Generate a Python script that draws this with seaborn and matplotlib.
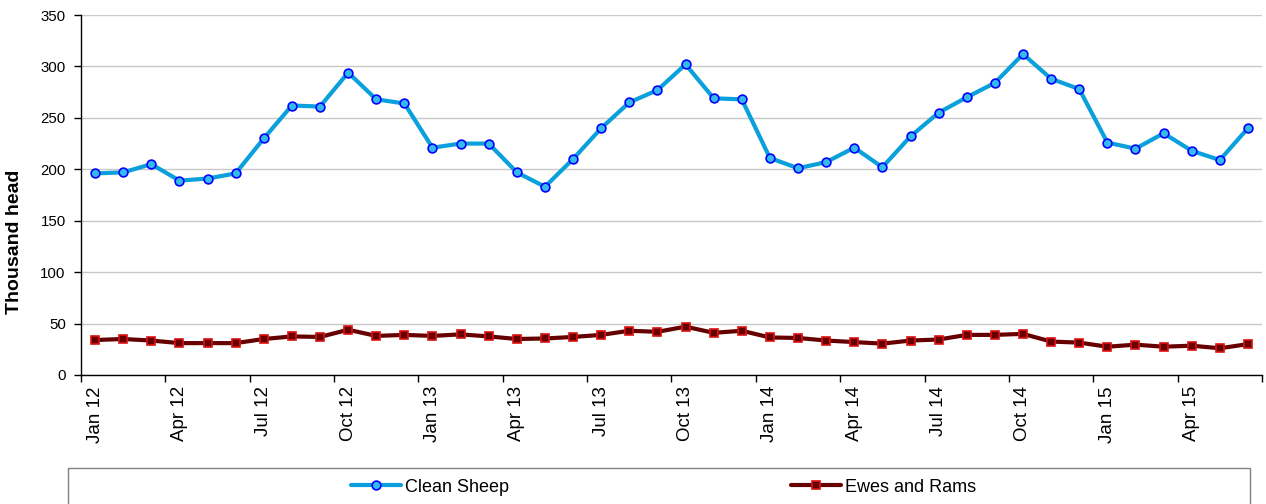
import numpy as np
import pandas as pd
import matplotlib
matplotlib.use("Agg")
import matplotlib.pyplot as plt
from matplotlib.patches import Rectangle
import seaborn as sns

# monthly values, Jan 12 .. Jun 15 (thousand head)
months = ["Jan", "Feb", "Mar", "Apr", "May", "Jun",
          "Jul", "Aug", "Sep", "Oct", "Nov", "Dec"]
years = ["12", "13", "14", "15"]
month_labels = [m + " " + y for y in years for m in months][:42]

clean_sheep = [196, 197, 205, 189, 191, 196, 230, 262, 261, 294, 268, 264,
               221, 225, 225, 197, 183, 210, 240, 265, 277, 302, 269, 268,
               211, 201, 207, 221, 202, 232, 255, 270, 284, 312, 288, 278,
               226, 220, 235, 218, 209, 240]
ewes_rams = [34, 35, 33.5, 31, 31, 31, 35, 37.5, 37, 44, 38, 39,
             38, 39.5, 37.5, 35, 35.5, 37, 39, 43, 42, 47, 41, 43,
             36.5, 36, 33.5, 32, 30.5, 33.5, 34.5, 39, 39, 40, 32.5, 31.5,
             27.5, 29.5, 27.5, 28.5, 26, 30]

df = pd.DataFrame({"idx": np.arange(len(month_labels)),
                   "month": month_labels,
                   "Clean Sheep": clean_sheep,
                   "Ewes and Rams": ewes_rams})

sns.set_style("white")
plt.rcParams["font.family"] = ["Liberation Sans", "DejaVu Sans"]
plt.rcParams["text.color"] = "black"
plt.rcParams["axes.labelcolor"] = "black"
plt.rcParams["xtick.color"] = "black"
plt.rcParams["ytick.color"] = "black"

fig = plt.figure(figsize=(12.66, 5.04), dpi=100)
ax = fig.add_axes([81 / 1266, 1 - 375 / 504, (1262 - 81) / 1266, 360 / 504])

sns.lineplot(data=df, x="idx", y="Clean Sheep", ax=ax, color="#0AA0DC",
             linewidth=3, marker="o", markersize=6.3,
             markerfacecolor="#33BBEE", markeredgecolor="#0000FF",
             markeredgewidth=1.2, label="Clean Sheep", legend=False)
sns.lineplot(data=df, x="idx", y="Ewes and Rams", ax=ax, color="#660000",
             linewidth=3, marker="s", markersize=5.8,
             markerfacecolor="#660000", markeredgecolor="#DD1111",
             markeredgewidth=1.2, label="Ewes and Rams", legend=False)

ax.set_xlim(-0.5, len(month_labels) - 0.5)
ax.set_ylim(0, 350)
ax.set_yticks(np.arange(0, 351, 50))
ax.grid(axis="y", color="#c8c8c8", linewidth=1)
ax.set_axisbelow(True)

# labels every quarter, tick marks between categories
ax.set_xticks(df["idx"][::3])
ax.set_xticklabels(df["month"][::3], rotation=90, fontsize=13.5)
ax.set_xticks(np.arange(-0.5, len(month_labels), 3), minor=True)
ax.tick_params(axis="x", which="major", length=0, pad=8)
ax.tick_params(axis="x", which="minor", length=5, width=1, color="black",
               direction="out")
ax.tick_params(axis="y", length=5, width=1, color="black", direction="out",
               labelsize=10.8, pad=6)
ax.yaxis.set_ticks_position("left")
ax.xaxis.set_ticks_position("bottom")

for s in ["top", "right"]:
    ax.spines[s].set_visible(False)
for s in ["left", "bottom"]:
    ax.spines[s].set_color("black")
    ax.spines[s].set_linewidth(1)

ax.set_xlabel("")
ax.set_ylabel("Thousand head", fontsize=14, fontweight="bold")
ax.yaxis.set_label_coords(-0.049, 0.37)

# legend box at the bottom
fig.add_artist(Rectangle((68 / 1266, -0.05), (1250 - 68) / 1266,
                         0.05 + (504 - 468) / 504, transform=fig.transFigure,
                         facecolor="white", edgecolor="#808080", linewidth=1))
handles, labels = ax.get_legend_handles_labels()
fig.legend(handles, labels, loc="center", ncol=2,
           bbox_to_anchor=(0.524, 1 - 487 / 504), frameon=False,
           fontsize=13, handlelength=2.8, handletextpad=0.2,
           columnspacing=15.6)

fig.savefig("out.png", dpi=100)
